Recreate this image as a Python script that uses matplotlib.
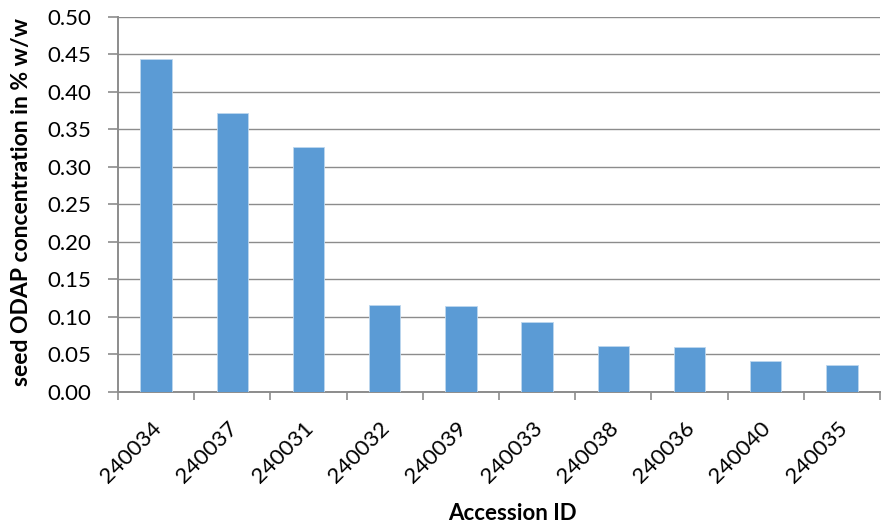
import numpy as np
import matplotlib.pyplot as plt
from matplotlib.ticker import MultipleLocator, FixedLocator
from matplotlib.transforms import ScaledTranslation

accessions = ['240034', '240037', '240031', '240032', '240039',
              '240033', '240038', '240036', '240040', '240035']
odap = [0.444, 0.372, 0.326, 0.116, 0.114, 0.093, 0.061, 0.060, 0.041, 0.036]

plt.rcParams['font.family'] = ['Lato', 'DejaVu Sans']

fig = plt.figure(figsize=(8.91, 5.26), dpi=100)
ax = fig.add_axes([0.1324, 0.2548, 0.8553, 0.7129])

x = np.arange(len(accessions))
ax.bar(x, odap, width=0.41, color='#5B9BD5', edgecolor='#BDD7EE', linewidth=0.6, zorder=3)

ax.set_xlim(-0.5, len(accessions) - 0.5)
ax.set_ylim(0, 0.5)
ax.yaxis.set_major_locator(MultipleLocator(0.05))
ax.yaxis.set_major_formatter(plt.FuncFormatter(lambda v, p: f'{v:.2f}'))
ax.grid(axis='y', color='#8C8C8C', linewidth=1.0, zorder=0)

ax.set_xticks(x)
ax.set_xticklabels(accessions, rotation=45, ha='right', va='top', rotation_mode='anchor')
ax.tick_params(axis='x', which='major', length=0, labelsize=16, pad=19)
shift = ScaledTranslation(-5 / 100, 0, fig.dpi_scale_trans)
for lbl in ax.get_xticklabels():
    lbl.set_transform(lbl.get_transform() + shift)
ax.xaxis.set_minor_locator(FixedLocator(np.arange(-0.5, len(accessions), 1.0)))
ax.tick_params(axis='x', which='minor', length=6, width=1.2, color='#8C8C8C')
ax.tick_params(axis='y', length=7, width=1.2, color='#8C8C8C', labelsize=16, pad=12)

for s in ['top', 'right']:
    ax.spines[s].set_visible(False)
for s in ['left', 'bottom']:
    ax.spines[s].set_color('#8C8C8C')
    ax.spines[s].set_linewidth(1.4)

ax.set_ylabel('seed ODAP concentration in % w/w', fontsize=16.5, fontweight='bold')
ax.yaxis.set_label_coords(32 / 891, 1 - 202 / 526, transform=fig.transFigure)
ax.set_xlabel('Accession ID', fontsize=16, fontweight='bold')
ax.xaxis.set_label_coords(512 / 891, 1 - 503 / 526, transform=fig.transFigure)

fig.savefig('out.png', dpi=100)
